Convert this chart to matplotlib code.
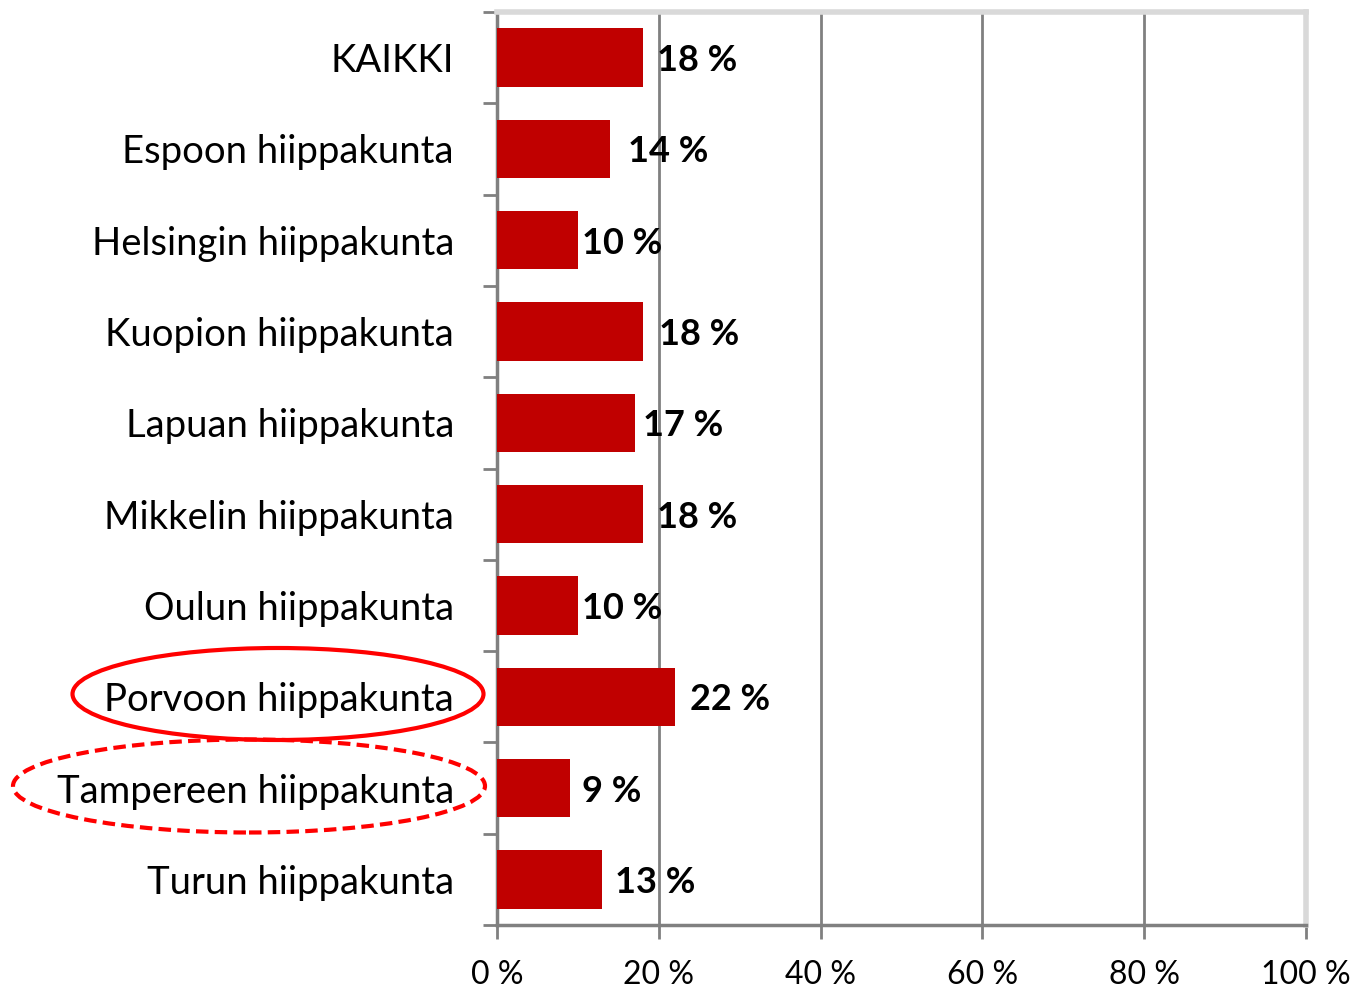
import matplotlib.pyplot as plt
from matplotlib.patches import Ellipse

categories = ["KAIKKI", "Espoon hiippakunta", "Helsingin hiippakunta",
              "Kuopion hiippakunta", "Lapuan hiippakunta", "Mikkelin hiippakunta",
              "Oulun hiippakunta", "Porvoon hiippakunta", "Tampereen hiippakunta",
              "Turun hiippakunta"]
values = [18, 14, 10, 18, 17, 18, 10, 22, 9, 13]
value_labels = ["18 %", "14 %", "10 %", "18 %", "17 %", "18 %", "10 %", "22 %", "9 %", "13 %"]
xticks = [0, 20, 40, 60, 80, 100]
xtick_labels = ["0 %", "20 %", "40 %", "60 %", "80 %", "100 %"]

# label offsets in points (Excel put them a bit unevenly)
label_offsets = [10, 13, 3, 12, 6, 10, 3, 11, 9, 9]

plt.rcParams["font.family"] = ["Lato", "DejaVu Sans"]

fig = plt.figure(figsize=(13.56, 9.89), dpi=100)
ax = fig.add_axes([497 / 1356, 1 - 925 / 989, 809 / 1356, (925 - 12) / 989])

y = list(range(len(categories)))
ax.barh(y, values, height=0.64, color="#c00000", zorder=3)

for yi, v, lab, off in zip(y, values, value_labels, label_offsets):
    ax.annotate(lab, (v, yi), xytext=(off, 0), textcoords="offset points",
                va="center_baseline", ha="left", fontsize=26, fontweight="bold", zorder=4)

ax.set_xlim(0, 100)
ax.set_ylim(len(categories) - 0.5, -0.5)
ax.set_yticks(y)
ax.set_yticklabels(categories, fontsize=27.5, va="center_baseline")
ax.set_yticks([i + 0.5 for i in range(-1, len(categories))], minor=True)
ax.tick_params(axis="y", which="major", length=0, pad=31)
ax.tick_params(axis="y", which="minor", length=10, width=2, color="#808080")

ax.set_xticks(xticks)
ax.set_xticklabels(xtick_labels, fontsize=23)
ax.tick_params(axis="x", length=10, width=2, color="#808080", pad=15)

ax.grid(axis="x", color="#808080", linewidth=2, zorder=0)
for s in ["top", "right"]:
    ax.spines[s].set_color("#d9d9d9")
    ax.spines[s].set_linewidth(4)
ax.spines["left"].set_color("#808080")
ax.spines["left"].set_linewidth(2.5)
ax.spines["bottom"].set_color("#808080")
ax.spines["bottom"].set_linewidth(2.5)

# highlight ellipses (figure pixel coords)
e1 = Ellipse((278 / 1356, 1 - 694 / 989), 411 / 1356, 92 / 989,
             transform=fig.transFigure, fill=False, edgecolor="#ff0000", linewidth=3)
e2 = Ellipse((249 / 1356, 1 - 786 / 989), 472 / 1356, 93 / 989,
             transform=fig.transFigure, fill=False, edgecolor="#ff0000", linewidth=3,
             linestyle=(0, (3, 1.5)))
fig.patches.extend([e1, e2])

fig.savefig("out.png", dpi=100)
